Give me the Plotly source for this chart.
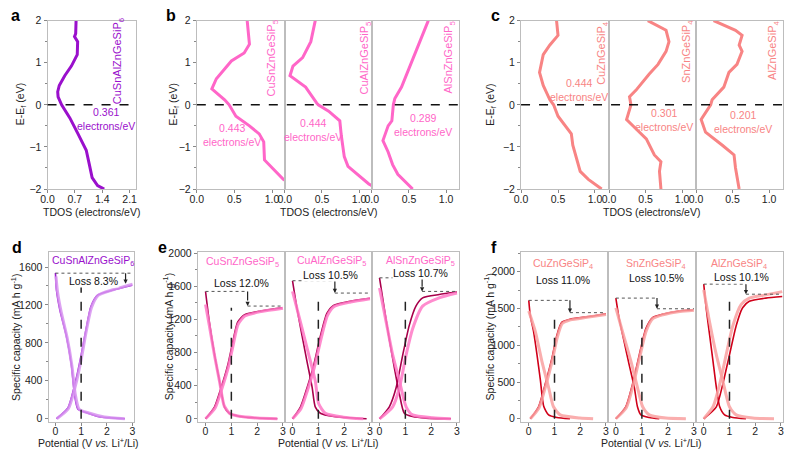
import plotly.graph_objects as go

W, H = 787, 454
def fx(p): return p / W
def fy(p): return 1 - p / H

FONT = "Liberation Sans, Arial, sans-serif"

# ---------------- colours ----------------
C_A = "#9A10CC"
C_B = "#FF66C8"
C_C = "#F88484"
D_LIGHT, D_DARK = "#D894F0", "#9A1BD0"
E_LIGHT, E_DARK = "#FF78C6", "#A8004C"
F_LIGHT, F_DARK = "#F9A0A0", "#D0001A"

# ---------------- TDOS data (top row) ----------------
a_dos = [0.73, 0.72, 0.69, 0.77, 0.76, 0.61, 0.44, 0.30, 0.26, 0.27, 0.36, 0.57, 0.78, 0.99, 1.07, 1.14, 1.28, 1.45]
a_e = [2, 1.69, 1.62, 1.5, 1.19, 0.92, 0.69, 0.46, 0.31, 0.19, 0, -0.31, -0.69, -1.08, -1.42, -1.73, -1.92, -2]

b1_dos = [0.67, 0.69, 0.70, 0.63, 0.46, 0.26, 0.20, 0.37, 0.43, 0.52, 0.70, 0.83, 0.89, 0.90, 0.96, 1.15, 1.25]
b1_e = [2, 1.69, 1.44, 1.23, 1.04, 0.62, 0.38, 0.12, 0, -0.27, -0.5, -0.69, -0.88, -1.31, -1.42, -1.77, -1.86]
b2_dos = [0.41, 0.35, 0.24, 0.11, 0.07, 0.15, 0.28, 0.43, 0.45, 0.59, 0.74, 0.76, 0.80, 0.85, 0.98, 1.13, 1.2]
b2_e = [2, 1.5, 1.12, 0.92, 0.69, 0.58, 0.42, 0.04, 0, -0.15, -0.38, -0.73, -1.23, -1.46, -1.65, -1.88, -1.95]
b3_dos = [0.76, 0.69, 0.60, 0.49, 0.40, 0.31, 0.29, 0.27, 0.22, 0.15, 0.22, 0.28, 0.35, 0.55]
b3_e = [2, 1.69, 1.27, 0.81, 0.42, 0.15, 0, -0.38, -0.5, -0.85, -1.12, -1.42, -1.65, -2]

c1_dos = [0.48, 0.50, 0.39, 0.30, 0.25, 0.30, 0.39, 0.44, 0.50, 0.68, 0.70, 0.80, 0.91, 1.09]
c1_e = [2, 1.65, 1.42, 1.19, 0.77, 0.46, 0.12, 0, -0.27, -0.69, -0.96, -1.58, -1.77, -2]
c2_dos = [0.53, 0.78, 0.82, 0.78, 0.67, 0.55, 0.37, 0.28, 0.30, 0.24, 0.35, 0.51, 0.62, 0.71, 0.69, 0.71]
c2_e = [2, 1.77, 1.5, 1.27, 0.96, 0.73, 0.35, 0.19, 0, -0.35, -0.54, -0.81, -1.19, -1.35, -1.58, -2]
c3_dos = [0.24, 0.54, 0.63, 0.59, 0.63, 0.56, 0.45, 0.38, 0.22, 0.20, 0.07, 0.13, 0.36, 0.52, 0.54, 0.59]
c3_e = [2, 1.77, 1.65, 1.42, 1.27, 0.96, 0.77, 0.42, 0.12, 0, -0.35, -0.65, -0.96, -1.19, -1.5, -2]

top_names = ["CuSnAlZnGeSiP<sub>6</sub>", "CuSnZnGeSiP<sub>5</sub>", "CuAlZnGeSiP<sub>5</sub>",
             "AlSnZnGeSiP<sub>5</sub>", "CuZnGeSiP<sub>4</sub>", "SnZnGeSiP<sub>4</sub>", "AlZnGeSiP<sub>4</sub>"]
dos_at_ef = ["0.361", "0.443", "0.444", "0.289", "0.444", "0.301", "0.201"]

# ---------------- charge/discharge data (bottom row) ----------------
d_dis_dark_v = [0.0, 0.04, 0.17, 0.42, 0.62, 0.74, 0.87, 1.19, 1.7, 2.7]
d_dis_dark_c = [1538, 1355, 1149, 877, 568, 258, 103, 65, 20, 0]
d_dis_light_v = [0.02, 0.08, 0.22, 0.45, 0.64, 0.77, 0.92, 1.3, 1.9, 2.7]
d_dis_light_c = [1500, 1340, 1130, 860, 560, 260, 100, 60, 18, 0]
d_chg_dark_v = [0.04, 0.49, 0.81, 1.0, 1.19, 1.38, 1.64, 2.22, 2.99]
d_chg_dark_c = [0, 117, 426, 671, 943, 1184, 1304, 1355, 1407]
d_chg_light_v = [0.05, 0.5, 0.83, 1.02, 1.2, 1.4, 1.66, 2.24, 3.0]
d_chg_light_c = [0, 105, 405, 650, 925, 1170, 1300, 1360, 1420]

e1_dis_dark_v = [0, 0.15, 0.35, 0.54, 0.73, 0.92, 1.24, 1.88, 2.78]
e1_dis_dark_c = [1537, 1164, 772, 459, 145, 67, 35, 12, 0]
e1_dis_light_v = [0, 0.15, 0.35, 0.55, 0.72, 0.95, 1.3, 2.0, 2.78]
e1_dis_light_c = [1380, 1120, 760, 440, 160, 60, 30, 10, 0]
e1_chg_dark_v = [0, 0.35, 0.6, 0.86, 1.05, 1.24, 1.5, 2.14, 2.97]
e1_chg_dark_c = [0, 145, 372, 647, 921, 1164, 1254, 1302, 1341]
e1_chg_light_v = [0, 0.37, 0.62, 0.88, 1.07, 1.26, 1.52, 2.16, 3.0]
e1_chg_light_c = [0, 130, 350, 620, 890, 1140, 1240, 1295, 1335]

e2_dis_dark_v = [0, 0.18, 0.37, 0.56, 0.76, 0.88, 1.08, 1.6, 2.87]
e2_dis_dark_c = [1666, 1320, 1000, 694, 380, 145, 67, 27, 0]
e2_dis_light_v = [0, 0.31, 0.63, 0.88, 1.01, 1.27, 1.97, 2.74]
e2_dis_light_c = [1537, 1164, 772, 459, 184, 67, 20, 0]
e2_chg_dark_v = [0, 0.31, 0.56, 0.82, 1.08, 1.33, 1.59, 2.23, 3.0]
e2_chg_dark_c = [0, 145, 372, 647, 1000, 1272, 1370, 1420, 1455]
e2_chg_light_v = [0, 0.33, 0.58, 0.84, 1.1, 1.35, 1.61, 2.25, 3.0]
e2_chg_light_c = [0, 125, 345, 615, 960, 1245, 1355, 1410, 1450]

e3_dis_dark_v = [0, 0.19, 0.38, 0.58, 0.77, 0.96, 1.28, 1.8, 2.76]
e3_dis_dark_c = [1701, 1320, 960, 607, 300, 67, 27, 8, 0]
e3_dis_light_v = [0, 0.26, 0.51, 0.77, 1.03, 1.28, 2.05, 2.76]
e3_dis_light_c = [1580, 1164, 772, 459, 145, 47, 12, 0]
e3_chg_dark_v = [0, 0.38, 0.64, 0.9, 1.15, 1.41, 1.67, 2.31, 3.0]
e3_chg_dark_c = [0, 145, 372, 772, 1125, 1360, 1460, 1500, 1530]
e3_chg_light_v = [0, 0.51, 0.77, 1.03, 1.28, 1.67, 2.31, 3.0]
e3_chg_light_c = [0, 145, 372, 772, 1085, 1360, 1460, 1518]

f1_dis_dark_v = [0, 0.06, 0.19, 0.32, 0.45, 0.58, 0.77, 1.09, 1.6]
f1_dis_dark_c = [1611, 1400, 1180, 870, 530, 170, 53, 18, 0]
f1_dis_light_v = [0, 0.26, 0.51, 0.77, 0.96, 1.22, 1.99, 2.5]
f1_dis_light_c = [1466, 1180, 782, 428, 163, 53, 9, 0]
f1_chg_dark_v = [0.06, 0.38, 0.64, 0.9, 1.09, 1.28, 1.6, 2.24, 3.0]
f1_chg_dark_c = [0, 163, 472, 826, 1135, 1311, 1355, 1386, 1430]
f1_chg_light_v = [0.06, 0.4, 0.66, 0.92, 1.11, 1.3, 1.62, 2.26, 3.0]
f1_chg_light_c = [0, 150, 450, 800, 1110, 1295, 1345, 1380, 1420]

f2_dis_dark_v = [0, 0.13, 0.32, 0.51, 0.71, 0.83, 0.96, 1.28, 1.67]
f2_dis_dark_c = [1642, 1355, 1046, 737, 428, 163, 53, 18, 0]
f2_dis_light_v = [0, 0.26, 0.58, 0.83, 1.03, 1.28, 1.92, 2.69]
f2_dis_light_c = [1510, 1180, 782, 428, 163, 53, 9, 0]
f2_chg_dark_v = [0, 0.38, 0.64, 0.9, 1.15, 1.41, 1.79, 2.44, 2.96]
f2_chg_dark_c = [0, 163, 472, 870, 1223, 1377, 1422, 1466, 1480]
f2_chg_light_v = [0, 0.4, 0.66, 0.92, 1.17, 1.43, 1.81, 2.46, 3.0]
f2_chg_light_c = [0, 150, 450, 845, 1200, 1365, 1415, 1460, 1478]

f3_dis_dark_v = [0, 0.1, 0.23, 0.36, 0.49, 0.62, 0.81, 1.13, 1.64]
f3_dis_dark_c = [1832, 1487, 1135, 782, 428, 163, 53, 18, 0]
f3_dis_light_v = [0, 0.23, 0.49, 0.74, 1.0, 1.26, 1.9, 2.73]
f3_dis_light_c = [1753, 1311, 870, 517, 163, 53, 9, 0]
f3_chg_dark_v = [0, 0.49, 0.74, 1.0, 1.26, 1.51, 1.77, 2.41, 3.05]
f3_chg_dark_c = [0, 163, 472, 870, 1267, 1510, 1598, 1642, 1664]
f3_chg_light_v = [0, 0.36, 0.62, 0.87, 1.13, 1.45, 1.77, 2.41, 3.05]
f3_chg_light_c = [0, 163, 472, 870, 1267, 1554, 1642, 1686, 1730]

bottom_names = ["CuSnAlZnGeSiP<sub>6</sub>", "CuSnZnGeSiP<sub>5</sub>", "CuAlZnGeSiP<sub>5</sub>",
                "AlSnZnGeSiP<sub>5</sub>", "CuZnGeSiP<sub>4</sub>", "SnZnGeSiP<sub>4</sub>", "AlZnGeSiP<sub>4</sub>"]
loss_labels = ["Loss 8.3%", "Loss 12.0%", "Loss 10.5%", "Loss 10.7%", "Loss 11.0%", "Loss 10.5%", "Loss 10.1%"]
loss_top = [1535, 1538, 1667, 1702, 1611, 1642, 1832]
loss_bottom = [1424, 1361, 1518, 1538, 1444, 1497, 1695]
loss_x = [2.73, 1.63, 1.64, 1.65, 1.6, 1.58, 1.64]
vline_top = [1470, 1341, 1459, 1509, 1387, 1444, 1642]

# ---------------- layout geometry ----------------
top_y = (15, 188)
bot_y = (253, 427)
top_x = [(41, 130), (192, 281), (281, 369), (369, 457), (520, 609), (609, 697), (697, 785)]
bot_x = [(42, 128), (193, 281), (281, 369), (369, 457), (520, 608), (608, 697), (697, 785)]
top_xr = [[0, 2.25], [0, 1.17], [0, 1.17], [0, 1.17], [0, 1.19], [0, 1.19], [0, 1.19]]
top_dtick = [0.7, 0.5, 0.5, 0.5, 0.5, 0.5, 0.5]
bot_xr = [[-0.27, 3.04]] + [[-0.3, 3.07]] * 3 + [[-0.3, 3.08]] * 3
bot_yr = [[-32, 1755]] + [[-35, 2010]] * 3 + [[-40, 2265]] * 3
bot_dtick = [400, 400, 400, 400, 500, 500, 500]
first_of_group = [True, True, False, False, True, False, False]

fig = go.Figure()
layout = dict(width=W, height=H, margin=dict(l=0, r=0, t=0, b=0),
              paper_bgcolor="white", plot_bgcolor="white", showlegend=False,
              font=dict(family=FONT, size=10.5, color="#222"))

FRAME = "#BDBDBD"
TICKFONT = dict(family=FONT, size=10.5, color="#222")

def add_axes(n, xdom, ydom, xr, yr, xdt, ydt, ytick0, yminor, show_y, xfmt):
    xa = dict(domain=[fx(xdom[0]), fx(xdom[1])], range=xr, anchor=f"y{n}",
              showline=True, linecolor=FRAME, linewidth=1, mirror=True,
              showgrid=False, zeroline=False, ticks="outside", ticklen=3,
              tickcolor="#888", tick0=0, dtick=xdt, tickformat=xfmt,
              tickfont=TICKFONT, ticklabelstandoff=-3)
    ya = dict(domain=[fy(ydom[1]), fy(ydom[0])], range=yr, anchor=f"x{n}",
              showline=True, linecolor=FRAME, linewidth=1, mirror=True,
              showgrid=False, zeroline=False, tickfont=TICKFONT,
              tick0=ytick0, dtick=ydt)
    if show_y:
        ya.update(ticks="outside", ticklen=3, tickcolor="#888",
                  minor=dict(ticks="outside", ticklen=2, dtick=yminor, tickcolor="#888"))
    else:
        ya.update(showticklabels=False, ticks="")
    layout[f"xaxis{n}"] = xa
    layout[f"yaxis{n}"] = ya

for i in range(7):
    add_axes(i + 1, top_x[i], top_y, top_xr[i], [-2, 2], top_dtick[i], 1, 0, 0.5,
             first_of_group[i], ".1f")
for i in range(7):
    add_axes(i + 8, bot_x[i], bot_y, bot_xr[i], bot_yr[i], 1, bot_dtick[i], 0,
             bot_dtick[i] / 2, first_of_group[i], "d")

# ---------------- TDOS traces ----------------
top_data = [(a_dos, a_e, C_A), (b1_dos, b1_e, C_B), (b2_dos, b2_e, C_B), (b3_dos, b3_e, C_B),
            (c1_dos, c1_e, C_C), (c2_dos, c2_e, C_C), (c3_dos, c3_e, C_C)]
for i, (xs, ys, col) in enumerate(top_data):
    n = i + 1
    fig.add_trace(go.Scatter(x=xs, y=ys, mode="lines", line=dict(color=col, width=3),
                             xaxis=f"x{n}", yaxis=f"y{n}", hoverinfo="skip"))

shapes = []
annotations = []
for (x0, x1, yref) in [(41, 130, "y1"), (192, 457, "y2"), (520, 785, "y5")]:
    shapes.append(dict(type="line", xref="paper", yref=yref, x0=fx(x0), x1=fx(x1), y0=0, y1=0,
                       line=dict(color="#111", width=1.5, dash="dash")))

top_name_pos = [(113, 57), (268, 54), (362, 53), (447, 53), (602, 48), (688, 47), (775, 46)]
top_cols = [C_A, C_B, C_B, C_B, C_C, C_C, C_C]
for i, (px, py) in enumerate(top_name_pos):
    annotations.append(dict(text=top_names[i], x=fx(px), y=fy(py), xref="paper", yref="paper",
                            showarrow=False, textangle=-90, xanchor="center", yanchor="middle",
                            font=dict(family=FONT, size=11, color=top_cols[i])))
dos_pos = [(100, 116), (228, 133), (310, 127), (421, 122), (579, 86), (665, 117), (745, 119)]
for i, (px, py) in enumerate(dos_pos):
    annotations.append(dict(text=dos_at_ef[i] + "<br>electrons/eV", x=fx(px), y=fy(py),
                            xref="paper", yref="paper", showarrow=False, align="center",
                            xanchor="center", yanchor="middle",
                            font=dict(family=FONT, size=10.5, color=top_cols[i])))

# ---------------- charge/discharge traces ----------------
bot_curves = [
    (d_dis_light_v, d_dis_light_c, d_dis_dark_v, d_dis_dark_c, d_chg_light_v, d_chg_light_c, d_chg_dark_v, d_chg_dark_c, D_LIGHT, D_DARK),
    (e1_dis_light_v, e1_dis_light_c, e1_dis_dark_v, e1_dis_dark_c, e1_chg_light_v, e1_chg_light_c, e1_chg_dark_v, e1_chg_dark_c, E_LIGHT, E_DARK),
    (e2_dis_light_v, e2_dis_light_c, e2_dis_dark_v, e2_dis_dark_c, e2_chg_light_v, e2_chg_light_c, e2_chg_dark_v, e2_chg_dark_c, E_LIGHT, E_DARK),
    (e3_dis_light_v, e3_dis_light_c, e3_dis_dark_v, e3_dis_dark_c, e3_chg_light_v, e3_chg_light_c, e3_chg_dark_v, e3_chg_dark_c, E_LIGHT, E_DARK),
    (f1_dis_light_v, f1_dis_light_c, f1_dis_dark_v, f1_dis_dark_c, f1_chg_light_v, f1_chg_light_c, f1_chg_dark_v, f1_chg_dark_c, F_LIGHT, F_DARK),
    (f2_dis_light_v, f2_dis_light_c, f2_dis_dark_v, f2_dis_dark_c, f2_chg_light_v, f2_chg_light_c, f2_chg_dark_v, f2_chg_dark_c, F_LIGHT, F_DARK),
    (f3_dis_light_v, f3_dis_light_c, f3_dis_dark_v, f3_dis_dark_c, f3_chg_light_v, f3_chg_light_c, f3_chg_dark_v, f3_chg_dark_c, F_LIGHT, F_DARK),
]
for i, (dlv, dlc, ddv, ddc, clv, clc, cdv, cdc, cl, cd) in enumerate(bot_curves):
    n = i + 8
    ax = dict(xaxis=f"x{n}", yaxis=f"y{n}", mode="lines", hoverinfo="skip")
    fig.add_trace(go.Scatter(x=ddv, y=ddc, line=dict(color=cd, width=1.6, shape="spline", smoothing=0.6), **ax))
    fig.add_trace(go.Scatter(x=cdv, y=cdc, line=dict(color=cd, width=1.6, shape="spline", smoothing=0.6), **ax))
    fig.add_trace(go.Scatter(x=dlv, y=dlc, line=dict(color=cl, width=3, shape="spline", smoothing=0.6), opacity=0.85, **ax))
    fig.add_trace(go.Scatter(x=clv, y=clc, line=dict(color=cl, width=3, shape="spline", smoothing=0.6), opacity=0.85, **ax))

    xr, yr = f"x{n}", f"y{n}"
    shapes.append(dict(type="line", xref=xr, yref=yr, x0=1, x1=1, y0=0, y1=vline_top[i],
                       line=dict(color="#222", width=1.5, dash="dash")))
    if i == 0:
        shapes.append(dict(type="line", xref=xr, yref=yr, x0=0, x1=3.0, y0=loss_top[i], y1=loss_top[i],
                           line=dict(color="#555", width=1, dash="dot")))
    else:
        shapes.append(dict(type="line", xref=xr, yref=yr, x0=0, x1=loss_x[i], y0=loss_top[i], y1=loss_top[i],
                           line=dict(color="#555", width=1, dash="dot")))
        shapes.append(dict(type="line", xref=xr, yref=yr, x0=loss_x[i], x1=3.0, y0=loss_bottom[i], y1=loss_bottom[i],
                           line=dict(color="#555", width=1, dash="dot")))
    shapes.append(dict(type="line", xref=xr, yref=yr, x0=loss_x[i], x1=loss_x[i], y0=loss_top[i],
                       y1=loss_bottom[i] + 30, line=dict(color="#222", width=1.2, dash="dash")))
    annotations.append(dict(x=loss_x[i], y=loss_bottom[i], ax=loss_x[i], ay=loss_bottom[i] + 40,
                            xref=xr, yref=yr, axref=xr, ayref=yr, text="", showarrow=True,
                            arrowhead=2, arrowsize=0.7, arrowwidth=1.2, arrowcolor="#222"))

bot_title_pos = [(87, 262), (238, 263), (328, 262), (418, 262), (562, 265), (657, 265), (740, 265)]
bot_loss_pos = [(88, 282), (237, 285), (327, 276), (418, 274), (562, 281), (657, 279), (743, 278)]
bot_cols = [C_A, C_B, C_B, C_B, C_C, C_C, C_C]
for i in range(7):
    annotations.append(dict(text=bottom_names[i], x=fx(bot_title_pos[i][0]), y=fy(bot_title_pos[i][1]),
                            xref="paper", yref="paper", showarrow=False, xanchor="center", yanchor="middle",
                            font=dict(family=FONT, size=10.5, color=bot_cols[i])))
    annotations.append(dict(text=loss_labels[i], x=fx(bot_loss_pos[i][0]), y=fy(bot_loss_pos[i][1]),
                            xref="paper", yref="paper", showarrow=False, xanchor="center", yanchor="middle",
                            bgcolor="white", borderpad=0,
                            font=dict(family=FONT, size=10.5, color="#111")))

# ---------------- axis titles & panel letters ----------------
for px in (14, 169, 490):
    annotations.append(dict(text="E-E<sub>f</sub> (eV)", x=fx(px), y=fy(101), xref="paper", yref="paper",
                            showarrow=False, textangle=-90, xanchor="center", yanchor="middle",
                            font=dict(family=FONT, size=10.5, color="#222")))
for px in (85, 325, 652):
    annotations.append(dict(text="TDOS (electrons/eV)", x=fx(px), y=fy(212), xref="paper", yref="paper",
                            showarrow=False, xanchor="center", yanchor="middle",
                            font=dict(family=FONT, size=10.5, color="#222")))
for px in (8, 162, 487):
    annotations.append(dict(text="Specific capacity (mA h g<sup>-1</sup>)", x=fx(px), y=fy(340),
                            xref="paper", yref="paper", showarrow=False, textangle=-90,
                            xanchor="center", yanchor="middle",
                            font=dict(family=FONT, size=10.5, color="#222")))
for px in (82, 325, 652):
    annotations.append(dict(text="Potential (V <i>vs.</i> Li<sup>+</sup>/Li)", x=fx(px), y=fy(454),
                            xref="paper", yref="paper", showarrow=False, xanchor="center", yanchor="bottom",
                            borderpad=0, yshift=-2,
                            font=dict(family=FONT, size=10.5, color="#222")))
for letter, px, py in [("a", 9, 10), ("b", 166, 10), ("c", 494, 10), ("d", 10, 248), ("e", 157, 248), ("f", 493, 248)]:
    annotations.append(dict(text=f"<b>{letter}</b>", x=fx(px), y=fy(py), xref="paper", yref="paper",
                            showarrow=False, xanchor="center", yanchor="middle",
                            font=dict(family=FONT, size=16, color="#000")))

layout["shapes"] = shapes
layout["annotations"] = annotations
fig.update_layout(**layout)
fig.write_html("out.html")
